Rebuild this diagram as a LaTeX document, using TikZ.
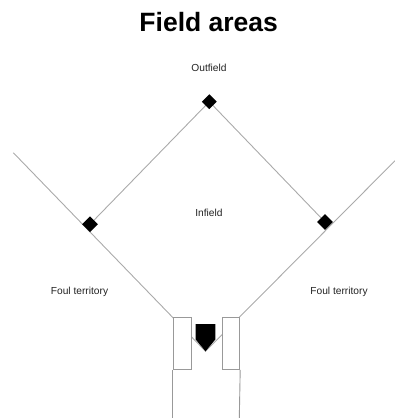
\documentclass[tikz,border=0pt]{standalone}
\usepackage{fontspec}
\setmainfont{Liberation Sans}
\usetikzlibrary{shapes.geometric}
\definecolor{linegray}{HTML}{AAAAAA}
\definecolor{boxgray}{HTML}{999999}
\definecolor{txt}{HTML}{222222}
\tikzset{
  fieldline/.style={draw=linegray, line width=0.9pt},
  boxline/.style={draw=boxgray, line width=0.9pt, fill=white},
  basebag/.style={diamond, fill=black, inner sep=0pt, minimum width=#1, minimum height=#1, aspect=1},
  lbl/.style={anchor=base, inner sep=0pt, text=txt, font=\fontsize{10.2}{12}\selectfont},
}
\begin{document}
\begin{tikzpicture}[x=1pt, y=-1pt]
\useasboundingbox (0,0) rectangle (395,418);
% key points
\coordinate (lfar) at (13.3,152.7);
\coordinate (rfar) at (395,160.7);
\coordinate (tip) at (205.5,351.3);
\coordinate (p2) at (209.3,101.7);
\coordinate (p3) at (90,224.3);
\coordinate (p1) at (325,222);
% foul lines and infield diamond
\draw[fieldline] (lfar) -- (tip) -- (rfar);
\draw[fieldline] (p3) -- (p2) -- (p1);
% batter's boxes
\node[boxline, inner sep=0pt, minimum width=18.5pt, minimum height=52.3pt, anchor=north west] (lbox) at (172.7,316.7) {};
\node[boxline, inner sep=0pt, minimum width=17.5pt, minimum height=52.3pt, anchor=north west] (rbox) at (221.8,316.7) {};
\coordinate (lbottom) at (172.7,418);
\coordinate (rbottom) at (239.3,418);
\draw[boxgray, line width=0.9pt] (lbox.south west) -- (lbottom);
\draw[boxgray, line width=0.9pt] (rbox.south east) -- (rbottom);
% home plate
\fill[black] (195.7,324) -- (215.3,324) -- (215.3,339.5) -- (205.5,351.3) -- (195.7,339.5) -- cycle;
% bases
\node[basebag=15pt] (second) at (p2) {};
\node[basebag=16pt] (third) at (p3) {};
\node[basebag=16pt] (first) at (p1) {};
% texts
\node[anchor=base, inner sep=0pt, font=\bfseries\fontsize{26.5}{30}\selectfont] (title) at (208.7,31.7) {Field areas};
\node[lbl] (outfield) at (209,71) {Outfield};
\node[lbl] (infield) at (209,216.5) {Infield};
\node[lbl] (foull) at (79.5,294) {Foul territory};
\node[lbl] (foulr) at (339,294) {Foul territory};
\end{tikzpicture}
\end{document}
